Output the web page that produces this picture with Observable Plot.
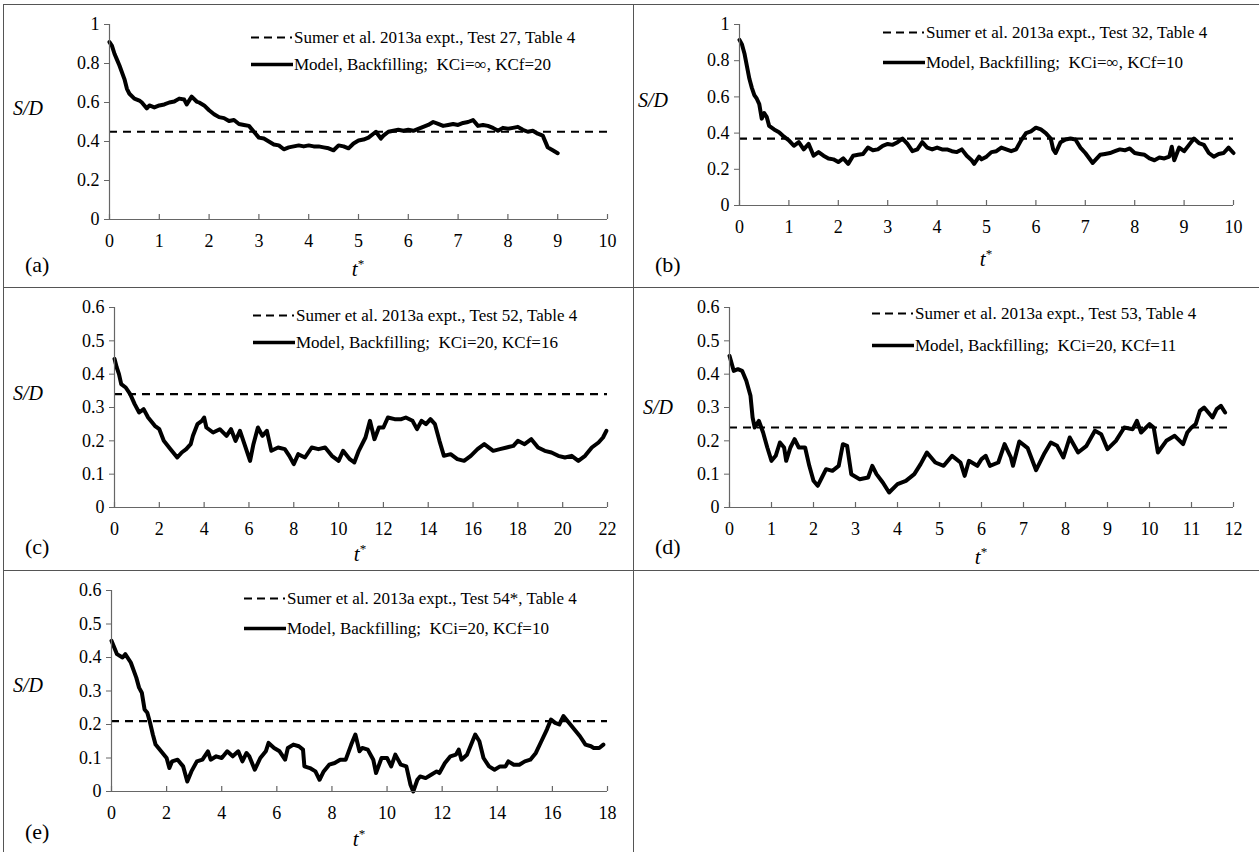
<!DOCTYPE html>
<html><head><meta charset="utf-8">
<script src="https://cdn.jsdelivr.net/npm/d3@7"></script>
<script src="https://cdn.jsdelivr.net/npm/@observablehq/plot@0.6"></script>
<style>
html,body{margin:0;padding:0;background:#fff;}
#root{position:relative;width:1259px;height:852px;overflow:hidden;font-family:"Liberation Serif";color:#000;}
#root svg text{font-family:"Liberation Serif";}
.plot{position:absolute;}
.hl{position:absolute;height:1px;background:#555;}
.vl{position:absolute;width:1px;background:#555;}
.txt{position:absolute;line-height:1;white-space:pre;transform:translateY(-50%);font-family:"Liberation Serif";}
.ctr{transform:translate(-50%,-50%);}
.leg{position:absolute;display:flex;align-items:center;line-height:1;white-space:pre;font-size:17px;transform:translateY(-50%);font-family:"Liberation Serif";}
sup{font-size:0.62em;vertical-align:0.55em;line-height:0;}
</style></head><body><div id="root"></div>
<script>
// ---------------- data ----------------
const labels = ["(a)", "(b)", "(c)", "(d)", "(e)"];
const expLabels = [
  "Sumer et al. 2013a expt., Test 27, Table 4",
  "Sumer et al. 2013a expt., Test 32, Table 4",
  "Sumer et al. 2013a expt., Test 52, Table 4",
  "Sumer et al. 2013a expt., Test 53, Table 4",
  "Sumer et al. 2013a expt., Test 54*, Table 4"
];
const modelLabels = [
  "Model, Backfilling;  KCi=\u221e, KCf=20",
  "Model, Backfilling;  KCi=\u221e, KCf=10",
  "Model, Backfilling;  KCi=20, KCf=16",
  "Model, Backfilling;  KCi=20, KCf=11",
  "Model, Backfilling;  KCi=20, KCf=10"
];
const expValues = [0.45, 0.37, 0.34, 0.24, 0.21];
const xTicksA = [0,1,2,3,4,5,6,7,8,9,10];
const xTicksB = [0,1,2,3,4,5,6,7,8,9,10];
const xTicksC = [0,2,4,6,8,10,12,14,16,18,20,22];
const xTicksD = [0,1,2,3,4,5,6,7,8,9,10,11,12];
const xTicksE = [0,2,4,6,8,10,12,14,16,18];
const yTicks1 = [0,0.2,0.4,0.6,0.8,1];
const yTicks06 = [0,0.1,0.2,0.3,0.4,0.5,0.6];

const seriesA = [[0,0.91],[0.05,0.89],[0.1,0.85],[0.15,0.82],[0.2,0.79],[0.3,0.72],[0.35,0.67],[0.4,0.645],[0.5,0.62],[0.6,0.61],[0.65,0.6],[0.7,0.585],[0.75,0.57],[0.8,0.585],[0.9,0.575],[1.0,0.585],[1.1,0.59],[1.2,0.6],[1.3,0.605],[1.4,0.62],[1.5,0.615],[1.55,0.59],[1.65,0.63],[1.75,0.605],[1.8,0.6],[1.9,0.585],[2.0,0.56],[2.1,0.54],[2.2,0.525],[2.3,0.52],[2.4,0.505],[2.5,0.51],[2.6,0.49],[2.7,0.485],[2.8,0.48],[2.9,0.45],[3.0,0.42],[3.1,0.415],[3.2,0.4],[3.3,0.385],[3.4,0.38],[3.5,0.36],[3.6,0.37],[3.7,0.375],[3.8,0.38],[3.9,0.375],[4.0,0.38],[4.1,0.375],[4.2,0.375],[4.3,0.37],[4.4,0.365],[4.5,0.355],[4.6,0.38],[4.7,0.375],[4.8,0.365],[4.9,0.39],[5.0,0.405],[5.1,0.41],[5.2,0.42],[5.3,0.44],[5.35,0.45],[5.45,0.415],[5.5,0.43],[5.6,0.45],[5.7,0.455],[5.8,0.46],[5.9,0.455],[6.0,0.46],[6.1,0.455],[6.2,0.465],[6.3,0.475],[6.4,0.485],[6.5,0.5],[6.6,0.49],[6.7,0.48],[6.8,0.485],[6.9,0.49],[7.0,0.485],[7.1,0.495],[7.2,0.5],[7.3,0.51],[7.4,0.48],[7.5,0.485],[7.6,0.48],[7.7,0.47],[7.8,0.455],[7.9,0.47],[8.0,0.465],[8.1,0.47],[8.2,0.475],[8.3,0.46],[8.4,0.45],[8.5,0.455],[8.6,0.44],[8.7,0.43],[8.8,0.37],[8.9,0.355],[9.0,0.34]];

const seriesB = [[0,0.915],[0.05,0.89],[0.1,0.84],[0.15,0.77],[0.2,0.7],[0.25,0.65],[0.3,0.61],[0.35,0.59],[0.4,0.56],[0.45,0.48],[0.5,0.51],[0.55,0.49],[0.6,0.44],[0.7,0.42],[0.8,0.405],[0.9,0.38],[1.0,0.36],[1.1,0.33],[1.2,0.35],[1.3,0.31],[1.4,0.34],[1.5,0.275],[1.6,0.295],[1.7,0.275],[1.8,0.26],[1.9,0.255],[2.0,0.24],[2.1,0.26],[2.2,0.23],[2.3,0.275],[2.4,0.28],[2.5,0.285],[2.6,0.32],[2.7,0.305],[2.8,0.31],[2.9,0.33],[3.0,0.34],[3.1,0.335],[3.2,0.35],[3.3,0.37],[3.4,0.34],[3.5,0.3],[3.6,0.31],[3.7,0.35],[3.8,0.32],[3.9,0.31],[4.0,0.32],[4.1,0.31],[4.2,0.31],[4.3,0.3],[4.4,0.295],[4.5,0.31],[4.6,0.275],[4.7,0.25],[4.75,0.23],[4.85,0.27],[4.9,0.255],[5.0,0.27],[5.1,0.295],[5.2,0.3],[5.3,0.32],[5.4,0.31],[5.5,0.3],[5.6,0.31],[5.7,0.36],[5.8,0.4],[5.9,0.41],[6.0,0.43],[6.1,0.42],[6.2,0.4],[6.3,0.37],[6.35,0.31],[6.4,0.29],[6.5,0.35],[6.6,0.365],[6.7,0.37],[6.8,0.365],[6.9,0.32],[7.0,0.29],[7.15,0.235],[7.3,0.28],[7.4,0.285],[7.5,0.29],[7.6,0.3],[7.7,0.31],[7.8,0.305],[7.9,0.315],[8.0,0.29],[8.1,0.285],[8.2,0.28],[8.3,0.26],[8.4,0.25],[8.5,0.265],[8.6,0.26],[8.7,0.27],[8.75,0.325],[8.8,0.25],[8.9,0.32],[9.0,0.3],[9.1,0.335],[9.2,0.37],[9.3,0.345],[9.4,0.335],[9.5,0.29],[9.6,0.27],[9.7,0.285],[9.8,0.29],[9.9,0.32],[10.0,0.29]];

const seriesC = [[0,0.446],[0.1,0.42],[0.2,0.4],[0.3,0.37],[0.5,0.36],[0.7,0.34],[0.9,0.31],[1.1,0.285],[1.3,0.295],[1.5,0.27],[1.8,0.245],[2.0,0.235],[2.2,0.2],[2.5,0.175],[2.8,0.15],[3.0,0.165],[3.2,0.175],[3.4,0.19],[3.5,0.215],[3.7,0.25],[3.9,0.26],[4.0,0.27],[4.1,0.24],[4.4,0.225],[4.7,0.235],[5.0,0.215],[5.2,0.235],[5.4,0.2],[5.6,0.23],[5.8,0.19],[6.05,0.14],[6.2,0.19],[6.4,0.24],[6.6,0.215],[6.8,0.23],[7.0,0.17],[7.3,0.18],[7.6,0.175],[7.8,0.155],[8.0,0.13],[8.2,0.16],[8.5,0.15],[8.8,0.18],[9.1,0.175],[9.4,0.18],[9.7,0.155],[10.0,0.14],[10.2,0.17],[10.5,0.145],[10.7,0.135],[10.9,0.17],[11.2,0.21],[11.4,0.26],[11.6,0.205],[11.8,0.24],[12.0,0.24],[12.2,0.27],[12.5,0.265],[12.8,0.265],[13.0,0.27],[13.3,0.26],[13.5,0.235],[13.7,0.26],[13.9,0.25],[14.1,0.265],[14.3,0.25],[14.5,0.2],[14.7,0.155],[15.0,0.16],[15.3,0.145],[15.6,0.14],[15.9,0.155],[16.2,0.175],[16.5,0.19],[16.9,0.17],[17.2,0.175],[17.5,0.18],[17.8,0.185],[18.0,0.2],[18.3,0.19],[18.6,0.205],[18.9,0.18],[19.2,0.17],[19.5,0.165],[19.8,0.155],[20.1,0.15],[20.4,0.155],[20.7,0.14],[21.0,0.155],[21.3,0.18],[21.6,0.195],[21.8,0.21],[21.95,0.23]];

const seriesD = [[0,0.455],[0.1,0.41],[0.2,0.415],[0.3,0.41],[0.4,0.38],[0.5,0.335],[0.55,0.27],[0.6,0.24],[0.7,0.26],[0.8,0.225],[0.9,0.18],[1.0,0.14],[1.1,0.155],[1.2,0.195],[1.3,0.18],[1.35,0.14],[1.45,0.18],[1.55,0.205],[1.65,0.18],[1.8,0.18],[1.9,0.125],[2.0,0.08],[2.1,0.065],[2.2,0.09],[2.3,0.115],[2.45,0.11],[2.6,0.125],[2.7,0.19],[2.8,0.185],[2.9,0.1],[3.1,0.085],[3.3,0.09],[3.4,0.125],[3.5,0.1],[3.65,0.075],[3.8,0.045],[4.0,0.07],[4.2,0.08],[4.4,0.1],[4.55,0.13],[4.7,0.165],[4.9,0.135],[5.1,0.125],[5.3,0.155],[5.5,0.135],[5.6,0.095],[5.7,0.14],[5.9,0.125],[6.0,0.145],[6.1,0.155],[6.2,0.125],[6.4,0.135],[6.55,0.19],[6.7,0.15],[6.75,0.125],[6.9,0.198],[7.1,0.178],[7.3,0.112],[7.5,0.163],[7.65,0.195],[7.8,0.185],[7.95,0.15],[8.1,0.21],[8.3,0.165],[8.5,0.185],[8.7,0.23],[8.85,0.22],[9.0,0.175],[9.2,0.2],[9.4,0.24],[9.6,0.235],[9.7,0.26],[9.8,0.225],[10.0,0.25],[10.1,0.24],[10.2,0.165],[10.4,0.2],[10.6,0.215],[10.8,0.19],[10.9,0.225],[11.0,0.24],[11.1,0.25],[11.2,0.29],[11.3,0.3],[11.4,0.285],[11.5,0.27],[11.6,0.295],[11.7,0.305],[11.8,0.285]];

const seriesE = [[0,0.45],[0.2,0.41],[0.4,0.4],[0.5,0.41],[0.7,0.385],[0.9,0.34],[1.0,0.31],[1.1,0.295],[1.2,0.245],[1.3,0.235],[1.4,0.205],[1.5,0.17],[1.6,0.14],[1.8,0.12],[2.0,0.1],[2.1,0.07],[2.2,0.09],[2.4,0.095],[2.6,0.075],[2.75,0.03],[2.9,0.06],[3.1,0.09],[3.3,0.095],[3.5,0.12],[3.6,0.095],[3.8,0.105],[4.0,0.1],[4.2,0.12],[4.4,0.105],[4.6,0.12],[4.75,0.09],[4.9,0.115],[5.0,0.105],[5.2,0.065],[5.4,0.1],[5.6,0.12],[5.7,0.145],[5.9,0.13],[6.1,0.12],[6.3,0.095],[6.4,0.13],[6.6,0.14],[6.8,0.135],[6.95,0.125],[7.0,0.075],[7.2,0.07],[7.4,0.06],[7.55,0.035],[7.7,0.06],[7.9,0.08],[8.1,0.085],[8.3,0.095],[8.5,0.095],[8.7,0.14],[8.85,0.17],[9.0,0.12],[9.1,0.13],[9.3,0.125],[9.5,0.095],[9.6,0.055],[9.8,0.1],[10.0,0.1],[10.15,0.075],[10.3,0.11],[10.5,0.08],[10.7,0.075],[10.85,0.02],[10.95,0.0],[11.1,0.035],[11.2,0.045],[11.4,0.04],[11.6,0.05],[11.8,0.06],[11.9,0.055],[12.1,0.085],[12.3,0.105],[12.5,0.11],[12.6,0.125],[12.7,0.095],[12.9,0.11],[13.1,0.15],[13.2,0.17],[13.35,0.15],[13.5,0.1],[13.7,0.075],[13.9,0.065],[14.1,0.075],[14.3,0.075],[14.4,0.09],[14.6,0.08],[14.8,0.08],[15.0,0.09],[15.2,0.095],[15.4,0.115],[15.6,0.15],[15.8,0.185],[15.95,0.215],[16.1,0.205],[16.25,0.2],[16.4,0.225],[16.6,0.205],[16.8,0.185],[17.0,0.165],[17.2,0.14],[17.4,0.135],[17.5,0.13],[17.7,0.13],[17.85,0.14]];

// ---------------- layout ----------------
const AXIS = "#666";
const FONT = "Liberation Serif";
const panelsLayout = [
  {series: seriesA, xTicks: xTicksA, yTicks: yTicks1, left: 0,   top: 0,   w: 633, h: 287, ml: 109, mr: 26, mt: 24, mb: 68,
   sd: [13, 108], tag: [25, 265], tstar: [358, 269], leg: [250, 37, 64]},
  {series: seriesB, xTicks: xTicksB, yTicks: yTicks1, left: 633, top: 0,   w: 626, h: 287, ml: 106, mr: 26, mt: 24, mb: 82,
   sd: [638, 100], tag: [655, 265], tstar: [986, 259], leg: [882, 32, 62]},
  {series: seriesC, xTicks: xTicksC, yTicks: yTicks06, left: 0, top: 287, w: 633, h: 283, ml: 114, mr: 26, mt: 20, mb: 63,
   sd: [13, 393], tag: [25, 547], tstar: [360, 554], leg: [252, 315, 342]},
  {series: seriesD, xTicks: xTicksD, yTicks: yTicks06, left: 633, top: 287, w: 626, h: 283, ml: 96, mr: 26, mt: 20, mb: 63,
   sd: [643, 407], tag: [655, 547], tstar: [981, 557], leg: [871, 313, 345]},
  {series: seriesE, xTicks: xTicksE, yTicks: yTicks06, left: 0, top: 570, w: 633, h: 282, ml: 111, mr: 26, mt: 20, mb: 61,
   sd: [13, 685], tag: [25, 832], tstar: [359, 839], leg: [243, 598, 628]}
];

const root = document.getElementById("root");
function addDiv(cls, style, html) {
  const d = document.createElement("div");
  d.className = cls;
  Object.assign(d.style, style);
  if (html != null) d.innerHTML = html;
  root.appendChild(d);
  return d;
}
const fmt = d => String(+(+d).toFixed(2));

panelsLayout.forEach((p, i) => {
  const data = p.series.map(([t, s]) => ({t, s}));
  const xMax = p.xTicks[p.xTicks.length - 1];
  const yMax = p.yTicks[p.yTicks.length - 1];
  const frameH = p.h - p.mt - p.mb;
  const chart = Plot.plot({
    width: p.w, height: p.h,
    marginLeft: p.ml, marginRight: p.mr, marginTop: p.mt, marginBottom: p.mb,
    x: {domain: [0, xMax]},
    y: {domain: [0, yMax]},
    style: {fontSize: "18px", background: "transparent", overflow: "visible", color: "#000"},
    marks: [
      Plot.ruleY([expValues[i]], {stroke: "#000", strokeWidth: 2.2, strokeDasharray: "8,6"}),
      Plot.line(data, {x: "t", y: "s", stroke: "#000", strokeWidth: 4, strokeLinejoin: "round", strokeLinecap: "round"}),
      Plot.ruleY([0], {stroke: AXIS, strokeWidth: 1.2}),
      Plot.ruleX([0], {stroke: AXIS, strokeWidth: 1.2}),
      Plot.tickX(p.xTicks, {x: d => d, insetTop: frameH - 5, stroke: AXIS, strokeWidth: 1.2}),
      Plot.axisX({ticks: p.xTicks, tickSize: 0, tickPadding: 15, tickFormat: fmt, label: null, fill: "#000", fontFamily: FONT, fontSize: 18}),
      Plot.axisY({ticks: p.yTicks, tickSize: 5, tickPadding: 5, tickFormat: fmt, label: null, stroke: AXIS, fill: "#000", fontFamily: FONT, fontSize: 18})
    ]
  });
  chart.setAttribute("font-family", FONT);
  chart.style.fontFamily = FONT;
  const holder = addDiv("plot", {left: p.left + "px", top: p.top + "px"});
  holder.appendChild(chart);

  addDiv("txt", {left: p.sd[0] + "px", top: p.sd[1] + "px", fontSize: "20px", fontStyle: "italic"}, "S/D");
  addDiv("txt", {left: p.tag[0] + "px", top: p.tag[1] + "px", fontSize: "22px"}, labels[i]);
  addDiv("txt ctr", {left: p.tstar[0] + "px", top: p.tstar[1] + "px", fontSize: "21px"}, "<i>t</i><sup>*</sup>");

  const [lx, r1, r2] = p.leg;
  addDiv("leg", {left: lx + "px", top: r1 + "px"},
    `<svg width="43" height="8" style="margin-right:1px"><line x1="1" y1="4" x2="42" y2="4" stroke="#000" stroke-width="2.2" stroke-dasharray="8,5"/></svg><span>${expLabels[i]}</span>`);
  addDiv("leg", {left: lx + "px", top: r2 + "px"},
    `<svg width="43" height="8" style="margin-right:1px"><line x1="1" y1="4" x2="43" y2="4" stroke="#000" stroke-width="3.6"/></svg><span>${modelLabels[i]}</span>`);
});

// cell borders
addDiv("hl", {left: "3px", top: "4px", width: "1256px"});
addDiv("hl", {left: "3px", top: "287px", width: "1256px"});
addDiv("hl", {left: "3px", top: "570px", width: "1256px"});
addDiv("vl", {left: "3px", top: "4px", height: "848px"});
addDiv("vl", {left: "633px", top: "4px", height: "848px"});
</script></body></html>
